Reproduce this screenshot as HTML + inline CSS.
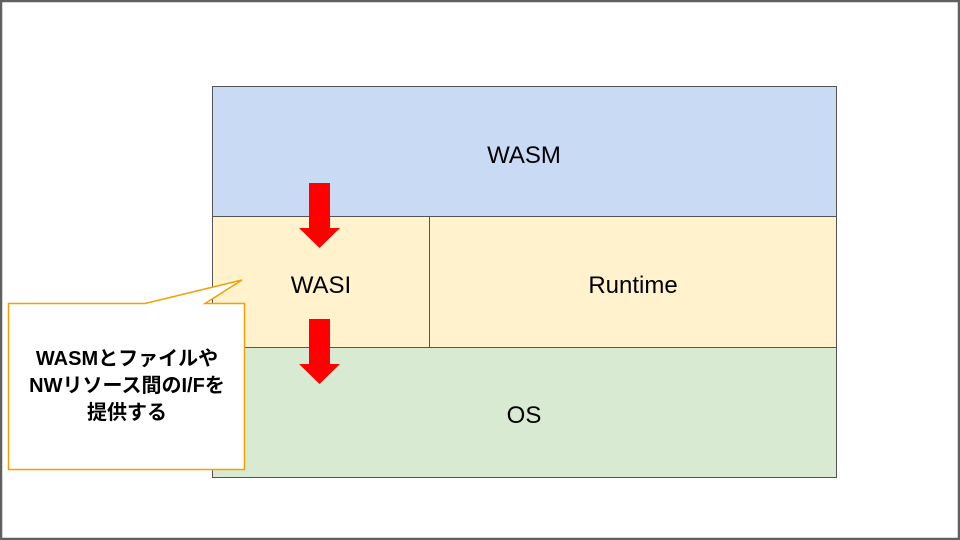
<!DOCTYPE html>
<html><head><style>
body{margin:0;width:960px;height:540px;overflow:hidden;background:#fff;font-family:"Liberation Sans","Noto Sans CJK JP",sans-serif}
</style></head><body>
<svg width="960" height="540" xmlns="http://www.w3.org/2000/svg" style="position:absolute;left:0;top:0">
<rect x="1" y="1" width="958" height="538" fill="#fff" stroke="#606060" stroke-width="2.5"/>
<rect x="212.5" y="86.5" width="624" height="130" fill="#c9daf5" stroke="#555"/>
<rect x="212.5" y="216.5" width="217" height="131" fill="#fff2cc" stroke="#555"/>
<rect x="429.5" y="216.5" width="407" height="131" fill="#fff2cc" stroke="#555"/>
<rect x="212.5" y="347.5" width="624" height="130" fill="#d9ead3" stroke="#555"/>
<g font-size="24" fill="#000" text-anchor="middle">
<text x="524" y="163">WASM</text>
<text x="321" y="293">WASI</text>
<text x="633" y="293">Runtime</text>
<text x="524" y="423">OS</text>
</g>
<polygon points="309,183 330,183 330,228 340,228 319.5,248 299,228 309,228" fill="#f00"/>
<polygon points="309,319 330,319 330,364 340,364 319.5,384 299,364 309,364" fill="#f00"/>
<path d="M8.5,303.5 H145 L242,280 L205,303.5 H244.5 V469.5 H8.5 Z" fill="#fff" stroke="#f4a000" stroke-width="1.5"/>
<g font-size="20" font-weight="bold" fill="#000" text-anchor="middle">
<text x="127" y="365">WASMとファイルや</text>
<text x="127" y="392">NWリソース間のI/Fを</text>
<text x="127" y="419">提供する</text>
</g>
</svg>
</body></html>
